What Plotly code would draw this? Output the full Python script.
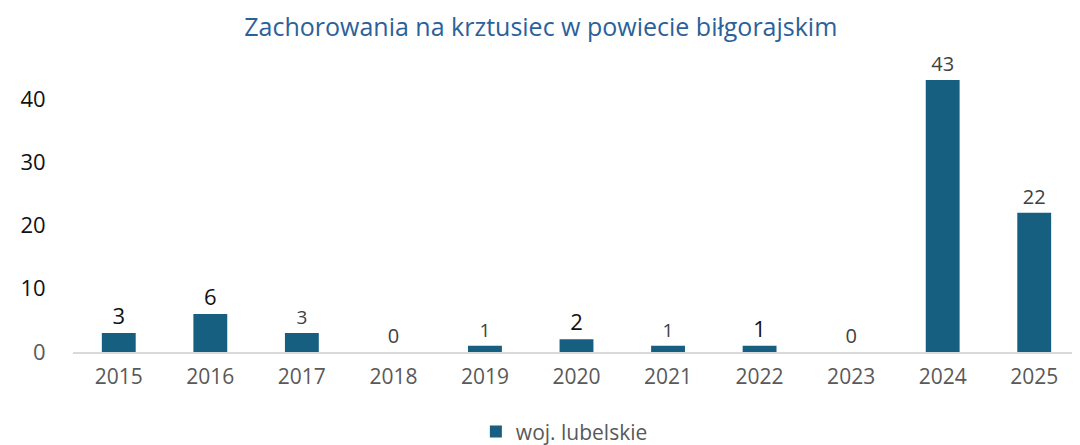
import plotly.graph_objects as go

years = ["2015", "2016", "2017", "2018", "2019", "2020", "2021", "2022", "2023", "2024", "2025"]
cases = [3, 6, 3, 0, 1, 2, 1, 1, 0, 43, 22]
label_colors = ["#111111", "#111111", "#404040", "#404040", "#404040", "#111111",
                "#404040", "#111111", "#404040", "#404040", "#404040"]
label_sizes = [22, 22, 19, 20, 19, 22, 19, 22, 20, 20, 20]
y_ticks = [0, 10, 20, 30, 40]
y_ticktext = ["<span style='color:#595959'>0</span>", "10", "20", "30", "40"]

BAR = "#175F80"

fig = go.Figure()
fig.add_trace(go.Bar(
    x=years, y=cases, name="woj. lubelskie",
    marker=dict(color=BAR, line=dict(width=0)),
    text=[str(v) for v in cases], textposition="outside", constraintext="none",
    textfont=dict(color=label_colors, size=label_sizes, family="Open Sans, DejaVu Sans"),
    cliponaxis=False, width=0.37,
))

fig.update_layout(
    width=1072, height=437,
    margin=dict(l=65, r=0, t=53, b=93, autoexpand=False),
    paper_bgcolor="white", plot_bgcolor="white",
    title=dict(text="Zachorowania na krztusiec w powiecie biłgorajskim",
               x=0.497, xref="container", xanchor="center", y=0.957, yanchor="middle",
               font=dict(size=25, color="#2B6199", family="Open Sans, DejaVu Sans")),
    font=dict(family="Open Sans, DejaVu Sans"),
    showlegend=True,
    legend=dict(orientation="h", x=0.519, xref="container", xanchor="center",
                y=0.03, yref="container", yanchor="middle",
                font=dict(size=21, color="#595959")),
    xaxis=dict(range=[-0.5, 10.5], showline=True, linecolor="#D9D9D9", linewidth=2,
               tickfont=dict(size=21, color="#595959"), ticks="outside", ticklen=5,
               tickcolor="white", showgrid=False, automargin=False),
    yaxis=dict(range=[0, 46], showgrid=False, zeroline=False, showline=False,
               tickvals=y_ticks, ticktext=y_ticktext, tickfont=dict(size=22, color="#111111"),
               ticks="outside", ticklen=22, tickcolor="white", automargin=False),
)

fig.write_html("out.html")
